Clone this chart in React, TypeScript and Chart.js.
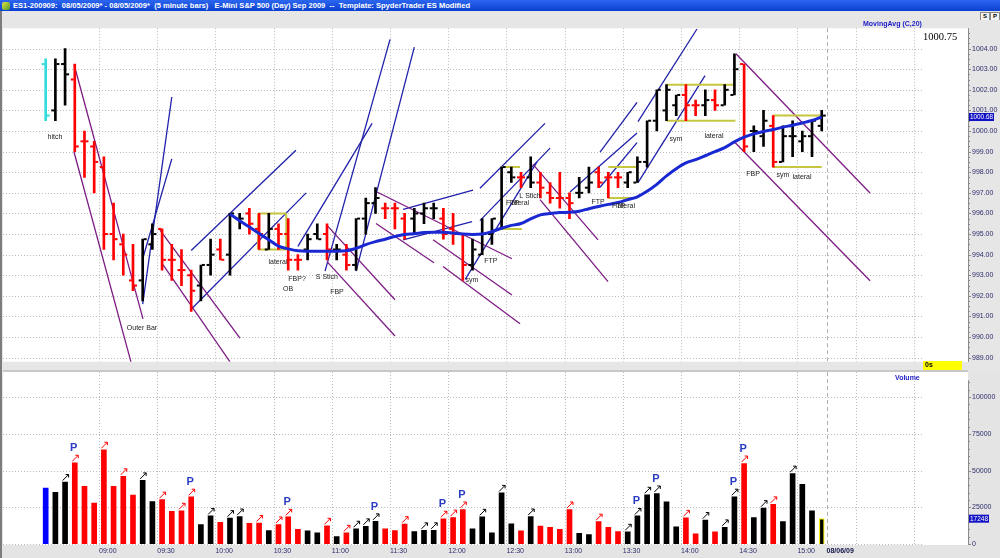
import React, { useEffect, useLayoutEffect, useRef } from 'react';
import { Chart, registerables } from 'chart.js';

Chart.register(...registerables);

// ---------------- data ----------------
const TITLE =
  'ES1-200909:  08/05/2009* - 08/05/2009*  (5 minute bars)   E-Mini S&P 500 (Day) Sep 2009  --  Template: SpyderTrader ES Modified';

const TIME_LABELS = ['09:00', '09:30', '10:00', '10:30', '11:00', '11:30', '12:00', '12:30', '13:00', '13:30', '14:00', '14:30', '15:00'];
const DATE_LABEL = '08/06/09';
const VOLUME_TICKS = [0, 25000, 50000, 75000, 100000];

const OPEN = [
  1003.25, 1001.0, 1003.25, 1002.5, 999.5, 999.25, 998.25, 995.0, 994.5, 992.75,
  992.75, 994.5, 995.25, 993.75, 993.25, 993.0, 992.5, 993.5, 994.25, 994.0,
  995.75, 996.0, 995.25, 994.25, 995.25, 995.0, 993.75, 994.25, 995.0, 995.0,
  994.25, 994.0, 993.5, 995.75, 996.5, 996.25, 996.25, 995.75, 995.75, 996.0,
  996.25, 995.75, 995.25, 995.0, 993.5, 994.0, 995.0, 995.25, 998.0, 997.75,
  997.75, 997.5, 997.0, 996.75, 996.75, 997.0, 997.25, 998.0, 997.75, 997.75,
  997.5, 997.5, 998.5, 1000.5, 1001.0, 1001.25, 1001.75, 1001.25, 1001.25, 1001.5,
  1001.25, 1001.75, 1003.25, 1000.0, 999.75, 1000.25, 998.5, 999.75, 999.5, 999.75, 1000.25,
];
const HIGH = [
  1003.5, 1003.5, 1004.0, 1003.25, 1000.0, 999.5, 998.75, 996.5, 995.0, 994.5,
  994.75, 995.5, 995.25, 994.5, 994.25, 993.25, 993.5, 994.75, 994.75, 996.0,
  996.0, 996.25, 996.0, 996.0, 995.5, 995.75, 994.0, 995.0, 995.5, 995.5,
  994.5, 994.5, 995.75, 996.75, 997.25, 996.5, 996.5, 996.0, 996.25, 996.5,
  996.5, 996.25, 996.0, 995.0, 994.75, 995.75, 995.75, 998.25, 998.25, 998.0,
  998.75, 998.0, 997.5, 998.0, 997.0, 997.75, 998.25, 998.25, 998.0, 998.0,
  998.0, 998.75, 1000.5, 1002.0, 1002.25, 1001.75, 1002.25, 1001.5, 1002.0, 1002.0,
  1002.25, 1003.75, 1003.25, 1000.25, 1001.0, 1000.75, 1000.25, 1000.5, 1000.0, 1000.5, 1001.0,
];
const LOW = [
  1000.5, 1000.5, 1001.25, 999.0, 997.75, 997.0, 994.25, 993.75, 993.0, 992.25,
  991.75, 994.25, 993.25, 992.75, 992.5, 991.25, 991.75, 993.0, 993.75, 993.0,
  995.25, 995.0, 994.25, 994.25, 994.25, 993.25, 993.25, 993.75, 994.75, 993.75,
  993.75, 993.25, 993.25, 995.0, 996.0, 995.75, 995.25, 994.75, 995.0, 995.5,
  995.75, 994.75, 994.5, 992.75, 993.25, 994.0, 994.5, 995.25, 997.5, 997.25,
  997.25, 996.75, 996.5, 996.25, 995.75, 996.75, 997.0, 997.25, 996.75, 997.25,
  997.25, 997.5, 998.25, 1000.0, 1000.5, 1000.75, 1000.5, 1000.75, 1000.75, 1001.0,
  1001.25, 1001.75, 999.0, 999.0, 999.25, 998.25, 998.5, 998.75, 999.0, 998.75, 1000.0,
];
const CLOSE = [
  1000.75, 1003.25, 1002.75, 999.25, 999.5, 998.5, 995.0, 994.75, 994.0, 992.5,
  994.75, 995.0, 993.75, 993.75, 993.25, 992.25, 993.5, 994.0, 993.75, 996.0,
  995.75, 995.5, 995.0, 995.25, 995.0, 993.75, 993.75, 994.75, 994.75, 994.25,
  994.25, 993.5, 995.75, 996.5, 996.75, 996.25, 996.25, 995.0, 996.0, 996.25,
  996.25, 995.0, 995.0, 993.5, 994.25, 995.0, 995.75, 998.25, 997.75, 997.75,
  997.5, 997.25, 996.75, 996.75, 996.5, 997.0, 997.5, 997.5, 997.75, 997.75,
  998.0, 998.5, 1000.5, 1002.0, 1002.0, 1001.75, 1001.25, 1001.25, 1001.5, 1001.25,
  1002.0, 1003.0, 999.25, 1000.0, 1000.5, 998.5, 999.75, 999.75, 999.75, 1000.5, 1000.75,
];
// c = cyan (first bar), k = up/black, r = down/red
const BAR_KIND = [
  'c', 'k', 'k', 'r', 'r', 'r', 'r', 'r', 'r', 'r',
  'k', 'k', 'r', 'r', 'r', 'r', 'k', 'k', 'r', 'k',
  'k', 'r', 'r', 'k', 'r', 'r', 'r', 'k', 'k', 'r',
  'k', 'r', 'k', 'k', 'k', 'r', 'r', 'r', 'k', 'k',
  'k', 'r', 'r', 'r', 'k', 'k', 'k', 'k', 'k', 'r',
  'k', 'r', 'r', 'r', 'r', 'k', 'k', 'r', 'r', 'r',
  'k', 'k', 'k', 'k', 'k', 'k', 'r', 'r', 'k', 'r',
  'k', 'k', 'r', 'k', 'k', 'r', 'k', 'k', 'k', 'k', 'k',
];
const VOLUME = [
  38000, 35200, 42200, 55300, 39200, 27800, 64200, 39200, 46100, 33300,
  43300, 28900, 30200, 22200, 22600, 32200, 13300, 19100, 14800, 17600,
  18700, 14100, 14300, 9100, 13300, 18500, 10000, 8900, 7600, 12400,
  5000, 7600, 10400, 12000, 15400, 10400, 9100, 13500, 8500, 9300,
  9300, 17200, 18000, 23500, 10400, 18500, 7600, 34800, 13700, 8900,
  18700, 12200, 11300, 10000, 23500, 7200, 6500, 15200, 11300, 8500,
  8300, 19100, 33500, 34400, 28700, 11700, 17800, 7000, 16300, 8300,
  11300, 32200, 54800, 18000, 24400, 27000, 15200, 47900, 40700, 22600, 17248,
];
const MA20: (number | null)[] = [
  null, null, null, null, null, null, null, null, null, null,
  null, null, null, null, null, null, null, null, null, 995.97,
  995.65, 995.34, 995.03, 994.72, 994.41, 994.28, 994.19, 994.17, 994.17, 994.17,
  994.17, 994.19, 994.31, 994.49, 994.63, 994.75, 994.88, 994.98, 995.02, 995.07,
  995.09, 995.09, 995.05, 995.0, 994.98, 995.0, 995.12, 995.28, 995.42, 995.51,
  995.74, 995.93, 996.0, 996.04, 996.06, 996.11, 996.23, 996.34, 996.44, 996.53,
  996.67, 996.81, 997.08, 997.41, 997.82, 998.17, 998.45, 998.61, 998.8, 999.0,
  999.19, 999.47, 999.7, 999.86, 999.98, 1000.07, 1000.19, 1000.28, 1000.39, 1000.51, 1000.68,
];
// volume bars carrying an arrow, and those carrying a "P"
const ARROW_BARS = [2, 3, 6, 8, 10, 12, 14, 15, 17, 19, 20, 22, 24, 25, 29, 31, 32, 33, 34, 37, 39, 40, 41, 42, 43, 45, 47, 50, 54, 57, 60, 61, 62, 63, 66, 68, 70, 71, 72, 74, 75, 77];
const P_BARS = [3, 15, 25, 34, 41, 43, 61, 63, 71, 72];

// drawn trend lines: [barIndex1, price1, barIndex2, price2]
const BLUE_LINES = [
  [10, 991.6, 13, 1001.65],
  [10, 993.8, 13, 998.65],
  [15, 991.35, 26.85, 997.0],
  [15, 994.2, 25.8, 999.07],
  [26, 994.4, 33.65, 1000.37],
  [28.8, 993.2, 35.5, 1004.45],
  [32, 993.2, 38, 1004.07],
  [36.85, 996.2, 44.05, 997.13],
  [36.85, 994.72, 43.95, 995.6],
  [43.25, 992.8, 50.65, 998.5],
  [44.77, 995.65, 52, 999.17],
  [44.77, 997.22, 51.47, 1000.37],
  [54.05, 997.04, 60.96, 999.9],
  [57.15, 997.27, 60.96, 999.44],
  [57.15, 998.98, 60.96, 1001.39],
  [61.06, 1000.46, 67.14, 1004.95],
  [61.06, 997.5, 67.97, 1002.69],
];
const PURPLE_LINES = [
  [2.92, 1003.24, 10.03, 990.88],
  [2.92, 998.98, 8.79, 988.8],
  [11.78, 995.19, 20.03, 989.95],
  [12.09, 993.52, 19.0, 988.8],
  [29.0, 995.42, 36.01, 991.81],
  [29.0, 993.66, 36.01, 990.05],
  [34.15, 997.04, 48.07, 993.8],
  [34.05, 995.51, 40.03, 993.61],
  [39.93, 994.72, 48.07, 992.04],
  [40.96, 993.43, 48.9, 990.65],
  [50.24, 998.38, 56.94, 994.72],
  [50.96, 996.67, 57.97, 992.69],
  [71.16, 1003.75, 84.98, 996.99],
  [71.06, 999.44, 84.98, 992.73],
];
const YELLOW_LINES = [
  [21.9, 996.0, 24.8, 996.0],
  [21.9, 994.25, 24.8, 994.25],
  [21.9, 994.25, 21.9, 996.0],
  [24.8, 994.25, 24.8, 996.0],
  [47.0, 998.25, 48.9, 998.25],
  [47.0, 995.25, 49.1, 995.25],
  [58.0, 998.25, 60.9, 998.25],
  [58.0, 996.75, 60.9, 996.75],
  [64.0, 1002.25, 71.1, 1002.25],
  [64.0, 1000.5, 71.1, 1000.5],
  [75.0, 1000.75, 80.0, 1000.75],
  [75.0, 998.25, 80.0, 998.25],
];
// text notes: [text, barIndex, price, align]
const NOTES: [string, number, number, string][] = [
  ['hitch', 0.96, 999.72, 'center'],
  ['Outer Bar', 9.93, 990.42, 'center'],
  ['lateral', 23.95, 993.66, 'center'],
  ['FBP?', 25.91, 992.82, 'center'],
  ['OB', 24.98, 992.31, 'center'],
  ['S Stich', 28.99, 992.92, 'center'],
  ['FBP', 30.03, 992.18, 'center'],
  ['sym', 43.95, 992.78, 'center'],
  ['FTP', 45.9, 993.7, 'center'],
  ['FTP', 47.45, 996.48, 'left'],
  ['lateral', 47.87, 996.48, 'left'],
  ['L Stich', 49.93, 996.85, 'center'],
  ['FTP', 56.94, 996.57, 'center'],
  ['FTP', 58.38, 996.34, 'left'],
  ['lateral', 58.79, 996.34, 'left'],
  ['sym', 64.98, 999.63, 'center'],
  ['lateral', 68.89, 999.77, 'center'],
  ['FBP', 72.92, 997.92, 'center'],
  ['sym', 76.0, 997.87, 'center'],
  ['lateral', 77.97, 997.78, 'center'],
];

// ---------------- layout / style ----------------
const X_MIN = -4.4;
const X_MAX = 95.08;
const BARS_PER_HALF_HOUR = 6;
const FIRST_GRID = 5.5;
const EXTRA_GRIDS = 2;
const DAY_BREAK = 80.5;
const GRID_RIGHT = 924;
const PRICE_MIN = 988.8;
const PRICE_MAX = 1004.99;
const VOL_MAX = 111546;

const PRICE_COLORS: Record<string, string> = { c: '#33dcdc', k: '#000000', r: '#ff0000' };
const VOL_COLORS: Record<string, string> = { c: '#0000ff', k: '#000000', r: '#ff0000' };
const AXIS_TEXT = '#2c2c6c';

const gridPositions = () => {
  const arr: number[] = [];
  for (let k = 0; k < TIME_LABELS.length + EXTRA_GRIDS; k++) arr.push(FIRST_GRID + k * BARS_PER_HALF_HOUR);
  return arr;
};

function line(ctx: CanvasRenderingContext2D, x1: number, y1: number, x2: number, y2: number) {
  ctx.beginPath();
  ctx.moveTo(x1, y1);
  ctx.lineTo(x2, y2);
  ctx.stroke();
}

function drawGrid(chart: any, hTicks: number[], yTop: number, yBottom: number) {
  const { ctx, chartArea: a, scales } = chart;
  const x = scales.x;
  const y = scales.y;
  ctx.save();
  ctx.strokeStyle = '#bcbcbc';
  ctx.lineWidth = 1;
  ctx.setLineDash([1, 2]);
  for (const v of hTicks) {
    const py = Math.round(y.getPixelForValue(v)) + 0.5;
    line(ctx, a.left, py, GRID_RIGHT, py);
  }
  for (const v of gridPositions()) {
    const px = Math.round(x.getPixelForValue(v)) + 0.5;
    line(ctx, px, yTop, px, yBottom);
  }
  ctx.setLineDash([4, 3]);
  ctx.strokeStyle = '#b0b0b0';
  const dx = Math.round(x.getPixelForValue(DAY_BREAK)) + 0.5;
  line(ctx, dx, yTop, dx, yBottom);
  ctx.restore();
}

function drawAxisLine(chart: any, minorStep: number, majorStep: number) {
  const { ctx, chartArea: a, scales } = chart;
  const y = scales.y;
  ctx.save();
  ctx.strokeStyle = '#8a8a8a';
  ctx.lineWidth = 1;
  line(ctx, a.right + 0.5, a.top, a.right + 0.5, a.bottom);
  const start = Math.ceil(y.min / minorStep) * minorStep;
  for (let v = start; v <= y.max; v += minorStep) {
    const py = Math.round(y.getPixelForValue(v)) + 0.5;
    const major = Math.abs(v / majorStep - Math.round(v / majorStep)) < 1e-6;
    line(ctx, a.right, py, a.right + (major ? 3 : 2), py);
  }
  ctx.restore();
}

const pricePlugin = {
  id: 'pricePane',
  beforeDraw(chart: any) {
    const { ctx, chartArea: a } = chart;
    ctx.save();
    ctx.fillStyle = '#e6e6e6';
    ctx.fillRect(0, 0, chart.width, chart.height);
    ctx.fillStyle = '#ffffff';
    ctx.fillRect(a.left, a.top, a.right - a.left, a.bottom - a.top);
    ctx.restore();
    drawGrid(chart, chart.scales.y.ticks.map((t: any) => t.value), a.top, a.bottom);
    drawAxisLine(chart, 0.25, 1);
  },
  afterDatasetDraw(chart: any, args: any) {
    if (args.index !== 0) return;
    const { ctx, scales } = chart;
    const x = scales.x;
    const y = scales.y;
    ctx.save();
    for (let i = 0; i < OPEN.length; i++) {
      const cx = x.getPixelForValue(i);
      ctx.fillStyle = PRICE_COLORS[BAR_KIND[i]];
      const yo = y.getPixelForValue(OPEN[i]);
      const yc = y.getPixelForValue(CLOSE[i]);
      ctx.fillRect(cx - 4, yo - 1, 3, 2);
      ctx.fillRect(cx + 1, yc - 1, 3, 2);
    }
    ctx.restore();
  },
  afterDatasetsDraw(chart: any) {
    const { ctx, scales } = chart;
    const x = scales.x;
    const y = scales.y;
    ctx.save();
    ctx.font = '7px Arial';
    ctx.fillStyle = '#222222';
    ctx.textBaseline = 'middle';
    for (const [t, bi, p, al] of NOTES) {
      ctx.textAlign = al as CanvasTextAlign;
      ctx.fillText(t, x.getPixelForValue(bi), y.getPixelForValue(p));
    }
    ctx.restore();
  },
  afterDraw(chart: any) {
    const { ctx, scales } = chart;
    const y = scales.y;
    ctx.save();
    ctx.textBaseline = 'middle';
    ctx.textAlign = 'left';
    ctx.font = 'bold 7px Arial';
    ctx.fillStyle = '#1c1cc8';
    ctx.fillText('MovingAvg (C,20)', 863, 4);
    ctx.font = '10.5px "Liberation Serif", "Times New Roman", serif';
    ctx.fillStyle = '#000000';
    ctx.textBaseline = 'alphabetic';
    ctx.fillText(CLOSE[CLOSE.length - 1].toFixed(2), 923, 19.5);
    // yellow "0s" box
    ctx.fillStyle = '#ffff00';
    ctx.fillRect(923, chart.height - 9, 39, 9);
    ctx.fillStyle = '#000000';
    ctx.font = 'bold 7px Arial';
    ctx.textBaseline = 'middle';
    ctx.fillText('0s', 925, chart.height - 4.5);
    // last MA value highlight
    const lastMa = MA20[MA20.length - 1] as number;
    const py = y.getPixelForValue(lastMa);
    ctx.fillStyle = '#1010c4';
    ctx.fillRect(969, py - 4, 25, 8);
    ctx.fillStyle = '#ffffff';
    ctx.font = '7px Arial';
    ctx.fillText(lastMa.toFixed(2), 970, py + 0.5, 23);
    ctx.restore();
  },
};

const volumePlugin = {
  id: 'volumePane',
  beforeDraw(chart: any) {
    const { ctx, chartArea: a } = chart;
    ctx.save();
    ctx.fillStyle = '#e4e4e4';
    ctx.fillRect(0, 0, chart.width, chart.height);
    ctx.fillStyle = '#ffffff';
    ctx.fillRect(a.left, 0, a.right - a.left, a.bottom + 1);
    ctx.restore();
    drawGrid(chart, chart.scales.y.ticks.map((t: any) => t.value), 0, a.bottom);
    drawAxisLine(chart, 5000, 25000);
  },
  afterDatasetsDraw(chart: any) {
    const { ctx, scales } = chart;
    const x = scales.x;
    const y = scales.y;
    ctx.save();
    ctx.lineWidth = 1;
    for (const i of ARROW_BARS) {
      const cx = x.getPixelForValue(i);
      const top = y.getPixelForValue(VOLUME[i]);
      ctx.strokeStyle = VOL_COLORS[BAR_KIND[i]];
      line(ctx, cx - 2.5, top - 1.5, cx + 3.5, top - 7.5);
      line(ctx, cx + 3.5, top - 7.5, cx + 0.5, top - 7.5);
      line(ctx, cx + 3.5, top - 7.5, cx + 3.5, top - 4.5);
    }
    ctx.font = 'bold 11px Arial';
    ctx.fillStyle = '#2a3cc4';
    ctx.textAlign = 'center';
    ctx.textBaseline = 'middle';
    for (const i of P_BARS) {
      const cx = x.getPixelForValue(i);
      const top = y.getPixelForValue(VOLUME[i]);
      ctx.fillText('P', cx - 1, top - 14.5);
    }
    ctx.restore();
  },
  afterDraw(chart: any) {
    const { ctx, scales } = chart;
    const y = scales.y;
    ctx.save();
    ctx.textBaseline = 'middle';
    ctx.textAlign = 'left';
    ctx.font = 'bold 7px Arial';
    ctx.fillStyle = '#1c1cc8';
    ctx.fillText('Volume', 895, 6);
    const last = VOLUME[VOLUME.length - 1];
    const py = y.getPixelForValue(last);
    ctx.fillStyle = '#1010c4';
    ctx.fillRect(969, py - 4, 20, 8);
    ctx.fillStyle = '#ffffff';
    ctx.font = '7px Arial';
    ctx.fillText(String(last), 970, py + 0.5, 18);
    ctx.restore();
  },
};

function segDataset(seg: number[], color: string, width: number, order: number) {
  return {
    type: 'line',
    data: [
      { x: seg[0], y: seg[1] },
      { x: seg[2], y: seg[3] },
    ],
    borderColor: color,
    borderWidth: width,
    pointRadius: 0,
    fill: false,
    order,
  };
}

function priceConfig(): any {
  const datasets: any[] = [
    {
      type: 'bar',
      data: HIGH.map((h, i) => ({ x: i, y: [LOW[i], h] })),
      backgroundColor: BAR_KIND.map((k) => PRICE_COLORS[k]),
      barThickness: 2,
      borderWidth: 0,
      borderSkipped: false,
      grouped: false,
      order: 2,
    },
    {
      type: 'line',
      data: MA20.map((v, i) => ({ x: i, y: v })).filter((p) => p.y !== null),
      borderColor: '#1a28d2',
      borderWidth: 3,
      pointRadius: 0,
      cubicInterpolationMode: 'monotone',
      fill: false,
      order: 1,
    },
    ...PURPLE_LINES.map((s) => segDataset(s, '#7c1c84', 1.3, 4)),
    ...BLUE_LINES.map((s) => segDataset(s, '#2020aa', 1.3, 4)),
    ...YELLOW_LINES.map((s) => segDataset(s, '#c6c640', 2, 3)),
  ];
  return {
    type: 'bar',
    data: { datasets },
    options: {
      responsive: false,
      animation: false,
      events: [],
      layout: { padding: { left: 3, right: 0, top: 0, bottom: 0 } },
      plugins: { legend: { display: false }, tooltip: { enabled: false } },
      scales: {
        x: { type: 'linear', min: X_MIN, max: X_MAX, offset: false, display: false },
        y: {
          type: 'linear',
          position: 'right',
          min: PRICE_MIN,
          max: PRICE_MAX,
          grid: { display: false, drawTicks: false },
          border: { display: false },
          ticks: {
            stepSize: 1,
            includeBounds: false,
            autoSkip: false,
            padding: 4,
            color: AXIS_TEXT,
            font: { family: 'Arial', size: 7 },
            callback: (v: any) => Number(v).toFixed(2),
          },
          afterFit: (s: any) => {
            s.width = 32;
          },
        },
      },
    },
    plugins: [pricePlugin],
  };
}

function volumeConfig(): any {
  const tickVals = [...TIME_LABELS.map((_, k) => FIRST_GRID + k * BARS_PER_HALF_HOUR), DAY_BREAK];
  const labelFor = (v: number) => {
    if (Math.abs(v - DAY_BREAK) < 1e-6) return DATE_LABEL;
    const k = Math.round((v - FIRST_GRID) / BARS_PER_HALF_HOUR);
    return TIME_LABELS[k] ?? '';
  };
  const lastIdx = VOLUME.length - 1;
  return {
    type: 'bar',
    data: {
      datasets: [
        {
          type: 'bar',
          data: VOLUME.map((v, i) => ({ x: i, y: v })),
          backgroundColor: BAR_KIND.map((k) => VOL_COLORS[k]),
          borderColor: VOLUME.map((_, i) => (i === lastIdx ? '#f4f400' : 'rgba(0,0,0,0)')),
          borderWidth: VOLUME.map((_, i) => (i === lastIdx ? 1.2 : 0)),
          borderSkipped: 'start',
          barThickness: 5,
          grouped: false,
        },
      ],
    },
    options: {
      responsive: false,
      animation: false,
      events: [],
      layout: { padding: { left: 3, right: 0, top: 1, bottom: 0 } },
      plugins: { legend: { display: false }, tooltip: { enabled: false } },
      scales: {
        x: {
          type: 'linear',
          min: X_MIN,
          max: X_MAX,
          offset: false,
          grid: { display: false, drawTicks: false },
          border: { display: false },
          afterBuildTicks: (s: any) => {
            s.ticks = tickVals.map((v) => ({ value: v }));
          },
          ticks: {
            autoSkip: false,
            maxRotation: 0,
            minRotation: 0,
            align: 'start',
            padding: 3,
            color: (c: any) => (c.tick && Math.abs(c.tick.value - DAY_BREAK) < 1e-6 ? '#14144a' : AXIS_TEXT),
            font: (c: any) =>
              c.tick && Math.abs(c.tick.value - DAY_BREAK) < 1e-6
                ? { family: 'Arial', size: 7, weight: 'bold' }
                : { family: 'Arial', size: 7 },
            callback: (v: any) => labelFor(Number(v)),
          },
          afterFit: (s: any) => {
            s.height = 14;
          },
        },
        y: {
          type: 'linear',
          position: 'right',
          min: 0,
          max: VOL_MAX,
          grid: { display: false, drawTicks: false },
          border: { display: false },
          afterBuildTicks: (s: any) => {
            s.ticks = VOLUME_TICKS.map((v) => ({ value: v }));
          },
          ticks: {
            autoSkip: false,
            padding: 4,
            color: AXIS_TEXT,
            font: { family: 'Arial', size: 7 },
            callback: (v: any) => String(v),
          },
          afterFit: (s: any) => {
            s.width = 32;
          },
        },
      },
    },
    plugins: [volumePlugin],
  };
}

export default function App() {
  const priceRef = useRef<HTMLCanvasElement>(null);
  const volRef = useRef<HTMLCanvasElement>(null);
  const titleRef = useRef<HTMLSpanElement>(null);

  useLayoutEffect(() => {
    const s = titleRef.current;
    if (!s) return;
    s.style.transform = 'none';
    const w = s.getBoundingClientRect().width;
    if (w > 0) s.style.transform = `scaleX(${457 / w})`;
  }, []);

  useEffect(() => {
    const pc = new Chart(priceRef.current as HTMLCanvasElement, priceConfig());
    const vc = new Chart(volRef.current as HTMLCanvasElement, volumeConfig());
    return () => {
      pc.destroy();
      vc.destroy();
    };
  }, []);

  const btn: React.CSSProperties = {
    position: 'absolute',
    top: 12,
    width: 8,
    height: 7,
    background: '#f4f4f4',
    border: '1px solid #8a8a8a',
    fontFamily: 'Arial',
    fontWeight: 'bold',
    fontSize: 6,
    lineHeight: '7px',
    textAlign: 'center',
    color: '#000',
  };

  return (
    <div
      style={{
        position: 'fixed',
        left: 0,
        top: 0,
        width: 1000,
        height: 558,
        background: '#e6e6e6',
        overflow: 'hidden',
        fontFamily: 'Arial',
      }}
    >
      <div
        style={{
          position: 'absolute',
          left: 0,
          top: 0,
          width: 1000,
          height: 11,
          background: 'linear-gradient(#2c66f0, #0a40d0)',
        }}
      >
        <div
          style={{
            position: 'absolute',
            left: 2,
            top: 1.5,
            width: 8,
            height: 8,
            background: 'linear-gradient(135deg, #e8e040, #4a9a30)',
            borderRadius: 2,
          }}
        />
        <span
          ref={titleRef}
          style={{
            position: 'absolute',
            left: 13,
            top: 0,
            lineHeight: '11px',
            fontSize: 8,
            fontWeight: 'bold',
            color: '#ffffff',
            whiteSpace: 'pre',
            transformOrigin: '0 0',
            display: 'inline-block',
          }}
        >
          {TITLE}
        </span>
      </div>
      <div style={{ ...btn, left: 980 }}>S</div>
      <div style={{ ...btn, left: 990 }}>P</div>
      <canvas
        ref={priceRef}
        width={1000}
        height={350}
        style={{ position: 'absolute', left: 0, top: 20, width: 1000, height: 350, display: 'block' }}
      />
      <div style={{ position: 'absolute', left: 3, top: 370, width: 965, height: 2, background: '#c8c8c8' }} />
      <canvas
        ref={volRef}
        width={1000}
        height={186}
        style={{ position: 'absolute', left: 0, top: 372, width: 1000, height: 186, display: 'block' }}
      />
      <div style={{ position: 'absolute', left: 0, top: 11, width: 2, height: 547, background: '#7c7c7c' }} />
    </div>
  );
}
